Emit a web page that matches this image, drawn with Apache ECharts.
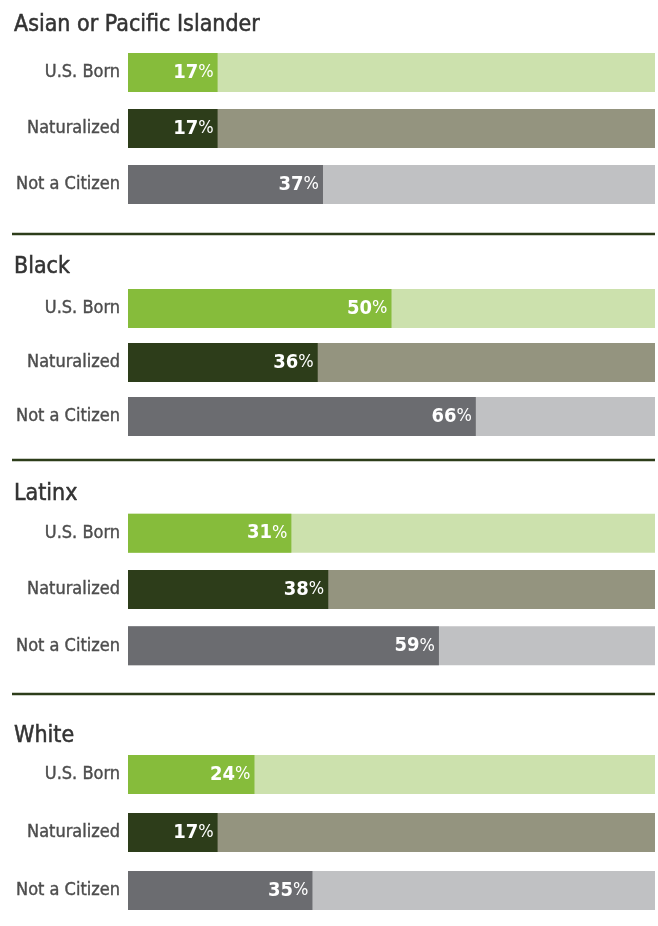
<!DOCTYPE html>
<html><head><meta charset="utf-8">
<script src="https://cdn.jsdelivr.net/npm/echarts@6/dist/echarts.min.js"></script>
<style>html,body{margin:0;padding:0;background:#fff}#c{width:658px;height:926px}</style>
</head><body><div id="c"></div>
<script>
const groups = ["Asian or Pacific Islander", "Black", "Latinx", "White"];
const categories = ["U.S. Born", "Naturalized", "Not a Citizen"];
const asianValues = [17, 17, 37];
const blackValues = [50, 36, 66];
const latinxValues = [31, 38, 59];
const whiteValues = [24, 17, 35];
const totalValues = [100, 100, 100];

const allValues = [asianValues, blackValues, latinxValues, whiteValues];
const darkColors = ["#86bc3b", "#2d3d1a", "#6b6c70"];
const lightColors = ["#cce1ad", "#94947f", "#c0c1c3"];
const FONT = "'Liberation Sans Narrow','DejaVu Sans Condensed',sans-serif";

const layout = [
  {top: 44.5, height: 168, title: 9},
  {top: 281.5, height: 162, title: 251},
  {top: 505, height: 169, title: 478},
  {top: 745.5, height: 174, title: 720}
];
const seps = [234, 460, 694];

const grid = [], xAxis = [], yAxis = [], series = [], title = [];
layout.forEach((l, i) => {
  grid.push({left: 128, right: 3, top: l.top, height: l.height});
  xAxis.push({gridIndex: i, type: 'value', min: 0, max: 100, show: false});
  yAxis.push({gridIndex: i, type: 'category', data: categories, inverse: true,
    axisLine: {show: false}, axisTick: {show: false}, splitLine: {show: false},
    axisLabel: {margin: 8, fontSize: 18, color: '#4d4d4d', fontFamily: FONT,
      textBorderColor: '#4d4d4d', textBorderWidth: 0.4}});
  title.push({text: groups[i], left: 9, top: l.title,
    textStyle: {fontSize: 23, fontWeight: 'normal', color: '#333', fontFamily: FONT,
      textBorderColor: '#333', textBorderWidth: 0.5}});
  series.push({type: 'bar', xAxisIndex: i, yAxisIndex: i, barWidth: 39, barGap: '-100%', z: 1,
    silent: true,
    data: totalValues.map((v, k) => ({value: v, itemStyle: {color: lightColors[k]}}))});
  series.push({type: 'bar', xAxisIndex: i, yAxisIndex: i, barWidth: 39, barGap: '-100%', z: 2,
    data: allValues[i].map((v, k) => ({value: v, itemStyle: {color: darkColors[k]}})),
    label: {show: true, position: 'insideRight', distance: 4,
      formatter: p => '{a|' + p.value + '}{b|%}',
      rich: {a: {fontSize: 20, fontWeight: 'bold', color: '#fff', fontFamily: FONT},
             b: {fontSize: 18, color: '#fff', fontFamily: FONT}}}});
});

const graphic = seps.map(y => ({type: 'line', shape: {x1: 12, y1: y, x2: 655, y2: y},
  style: {stroke: '#2d3d1a', lineWidth: 2.5}}));

const chart = echarts.init(document.getElementById('c'), null, {renderer: 'canvas'});
chart.setOption({animation: false, title, grid, xAxis, yAxis, series, graphic});
</script></body></html>
